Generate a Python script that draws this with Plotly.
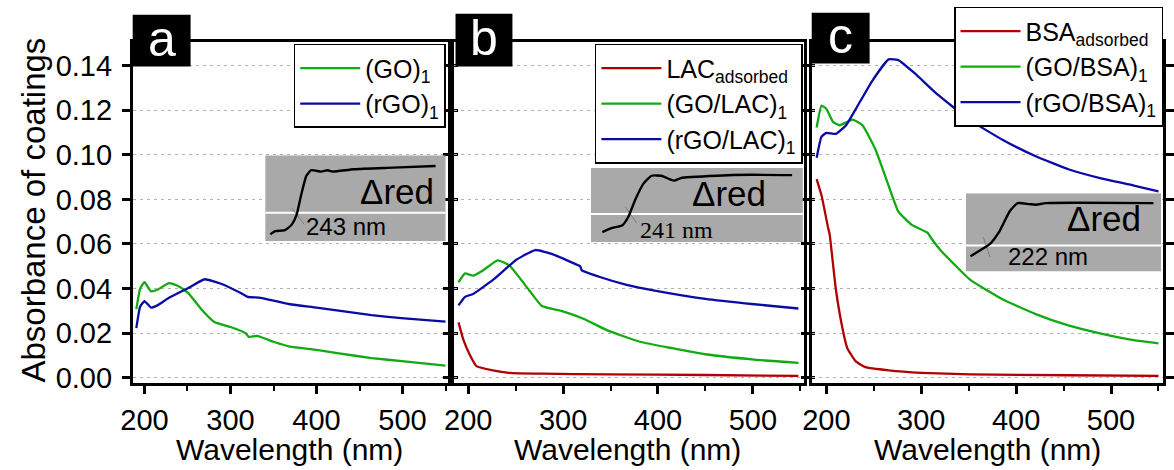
import plotly.graph_objects as go

W, H = 1174, 470

# ---------------- data ----------------
# panel a
a_go_x = [190.5, 195, 200, 207.6, 215, 228.5, 240, 251, 266, 281.7, 300, 317.8, 321, 331, 350, 369, 400, 426, 464, 502, 550]
a_go_y = [0.0308, 0.040, 0.0429, 0.0388, 0.0395, 0.0425, 0.0410, 0.0380, 0.0308, 0.0249, 0.0228, 0.0200, 0.0184, 0.0188, 0.0162, 0.0140, 0.0126, 0.0110, 0.0089, 0.0074, 0.0055]
a_rgo_x = [190.5, 195, 200, 207.6, 215, 228.5, 251, 270, 289, 312, 320, 335, 369, 400, 464, 502, 550]
a_rgo_y = [0.0223, 0.0320, 0.0344, 0.0315, 0.0325, 0.0359, 0.0403, 0.0442, 0.0422, 0.0380, 0.0363, 0.0359, 0.0330, 0.0315, 0.0281, 0.0267, 0.0252]

# panel b
b_lac_x = [189.7, 195, 201.7, 208.6, 226, 243, 277.6, 346.5, 450, 548]
b_lac_y = [0.0249, 0.0169, 0.0103, 0.0053, 0.0034, 0.0023, 0.0019, 0.0016, 0.0013, 0.0009]
b_go_x = [189.7, 196.6, 205, 215, 231, 243, 263.8, 277.6, 298, 322, 346.5, 381, 415, 450, 501.6, 548]
b_go_y = [0.0428, 0.0468, 0.0458, 0.0480, 0.0527, 0.0505, 0.0395, 0.0322, 0.0300, 0.0264, 0.0213, 0.0162, 0.0133, 0.0106, 0.0082, 0.0067]
b_rgo_x = [189.7, 196.6, 205, 226, 250, 270.6, 288, 312, 318, 319.5, 339.6, 367, 398, 450, 501.6, 548]
b_rgo_y = [0.0325, 0.0363, 0.0376, 0.0439, 0.0527, 0.0573, 0.0556, 0.0512, 0.0500, 0.0483, 0.0451, 0.0417, 0.0390, 0.0354, 0.0330, 0.0311]

# panel c
c_bsa_x = [189.7, 194.8, 201.7, 203.4, 210, 217, 222, 231, 241, 265.5, 300, 351.7, 455, 550]
c_bsa_y = [0.0891, 0.0818, 0.0674, 0.0643, 0.0395, 0.0220, 0.0133, 0.0074, 0.0048, 0.0034, 0.0023, 0.0016, 0.0012, 0.0009]
c_go_x = [189.7, 194.8, 200, 207, 213.8, 227.6, 238, 251.7, 265.5, 275.8, 289.6, 306.8, 310, 320.7, 351.7, 386, 420.6, 455, 489.6, 524, 550]
c_go_y = [0.1122, 0.1220, 0.1205, 0.1147, 0.1132, 0.1157, 0.1132, 0.1023, 0.0862, 0.0745, 0.0687, 0.0650, 0.0629, 0.0570, 0.0439, 0.0351, 0.0286, 0.0235, 0.0198, 0.0169, 0.0155]
c_rgo_x = [189.7, 194.8, 200, 210, 220.7, 231, 248, 265.5, 275.8, 293, 317, 351.7, 386, 420.6, 455, 489.6, 524, 550]
c_rgo_y = [0.0986, 0.1081, 0.1098, 0.1093, 0.1132, 0.1205, 0.1329, 0.1427, 0.1424, 0.1365, 0.1270, 0.1154, 0.1066, 0.0993, 0.0935, 0.0894, 0.0862, 0.0836]

# insets (normalised coordinates inside each grey box)
ins_a_x = [0.029, 0.056, 0.110, 0.147, 0.174, 0.201, 0.228, 0.255, 0.310, 0.346, 0.373, 0.491, 0.708, 0.944]
ins_a_y = [0.080, 0.117, 0.128, 0.193, 0.307, 0.553, 0.761, 0.826, 0.810, 0.826, 0.810, 0.838, 0.856, 0.875]
ins_b_x = [0.054, 0.100, 0.147, 0.177, 0.208, 0.247, 0.286, 0.332, 0.370, 0.394, 0.424, 0.594, 0.749, 0.949]
ins_b_y = [0.136, 0.193, 0.224, 0.346, 0.566, 0.786, 0.895, 0.895, 0.851, 0.829, 0.864, 0.895, 0.908, 0.904]
ins_c_x = [0.024, 0.074, 0.124, 0.174, 0.225, 0.266, 0.325, 0.358, 0.409, 0.576, 0.961]
ins_c_y = [0.196, 0.271, 0.354, 0.521, 0.771, 0.875, 0.8625, 0.854, 0.875, 0.879, 0.875]
tan_a = ([0.147, 0.217], [0.386, 0.193])
tan_b = ([0.162, 0.216], [0.478, 0.259])
tan_c = ([0.090, 0.124], [0.4375, 0.1875])
white_a, white_b, white_c = 0.33, 0.38, 0.334
inset_labels = ["243 nm", "241 nm", "222 nm"]

yticks = [0.00, 0.02, 0.04, 0.06, 0.08, 0.10, 0.12, 0.14]
xticks = [200, 300, 400, 500]

GREEN, BLUE, RED = "#12aa12", "#0a0aa6", "#b00000"
FONT = "Liberation Sans"

def px(x):
    return x / W

def py(y):
    return 1 - y / H

fig = go.Figure()

def add_line(x, y, color, name, xa, ya, legend):
    fig.add_trace(go.Scatter(x=x, y=y, mode="lines", name=name, xaxis=xa, yaxis=ya,
                             line=dict(color=color, width=2.3, shape="spline", smoothing=0.4),
                             legend=legend))

add_line(a_go_x, a_go_y, GREEN, "(GO)<sub>1</sub>", "x", "y", "legend")
add_line(a_rgo_x, a_rgo_y, BLUE, "(rGO)<sub>1</sub>", "x", "y", "legend")
add_line(b_lac_x, b_lac_y, RED, "LAC<sub>adsorbed</sub>", "x2", "y2", "legend2")
add_line(b_go_x, b_go_y, GREEN, "(GO/LAC)<sub>1</sub>", "x2", "y2", "legend2")
add_line(b_rgo_x, b_rgo_y, BLUE, "(rGO/LAC)<sub>1</sub>", "x2", "y2", "legend2")
add_line(c_bsa_x, c_bsa_y, RED, "BSA<sub>adsorbed</sub>", "x3", "y3", "legend3")
add_line(c_go_x, c_go_y, GREEN, "(GO/BSA)<sub>1</sub>", "x3", "y3", "legend3")
add_line(c_rgo_x, c_rgo_y, BLUE, "(rGO/BSA)<sub>1</sub>", "x3", "y3", "legend3")

# insets
insets = [
    ("x4", "y4", ins_a_x, ins_a_y, tan_a, white_a),
    ("x5", "y5", ins_b_x, ins_b_y, tan_b, white_b),
    ("x6", "y6", ins_c_x, ins_c_y, tan_c, white_c),
]
for xa, ya, ix, iy, tn, wl in insets:
    fig.add_trace(go.Scatter(x=[0, 1, 1, 0, 0], y=[0, 0, 1, 1, 0], fill="toself", mode="lines",
                             fillcolor="#a9a9a9", line=dict(width=0), xaxis=xa, yaxis=ya,
                             showlegend=False, hoverinfo="skip"))
    fig.add_trace(go.Scatter(x=[0, 1], y=[wl, wl], mode="lines", line=dict(color="white", width=2),
                             xaxis=xa, yaxis=ya, showlegend=False, hoverinfo="skip"))
    fig.add_trace(go.Scatter(x=tn[0], y=tn[1], mode="lines", line=dict(color="#707070", width=0.8),
                             xaxis=xa, yaxis=ya, showlegend=False, hoverinfo="skip"))
    fig.add_trace(go.Scatter(x=ix, y=iy, mode="lines", line=dict(color="black", width=2.4, shape="spline", smoothing=0.5),
                             xaxis=xa, yaxis=ya, showlegend=False, hoverinfo="skip"))

# geometry (pixels)
panels = {
    "a": dict(x0=123, x1=444, xr=[186.3, 552.5]),
    "b": dict(x0=450, x1=807, xr=[184.5, 553.8]),
    "c": dict(x0=815, x1=1173, xr=[184.5, 554.8]),
}
ydom = [py(392), py(43)]
yr = [-0.0022, 0.1505]

axcommon = dict(showline=True, linewidth=2.5, linecolor="black", ticks="outside", tickwidth=2.5,
                ticklen=8, tickcolor="black", zeroline=False)

layout = dict(width=W, height=H, margin=dict(l=0, r=0, t=0, b=0),
              paper_bgcolor="white", plot_bgcolor="rgba(0,0,0,0)",
              font=dict(family=FONT, color="black"), showlegend=True)

for i, key in enumerate(["a", "b", "c"]):
    p = panels[key]
    sfx = "" if i == 0 else str(i + 1)
    layout["xaxis" + sfx] = dict(domain=[px(p["x0"]), px(p["x1"])], range=p["xr"], anchor="y" + sfx,
                                 tickvals=xticks, tickfont=dict(size=29, family=FONT), mirror=True,
                                 showgrid=False, ticklabelstandoff=2,
                                 minor=dict(dtick=50, tick0=0, ticks="outside", ticklen=5, tickwidth=2, tickcolor="black"),
                                 **axcommon)
    layout["yaxis" + sfx] = dict(domain=ydom, range=yr, anchor="x" + sfx, tickvals=yticks,
                                 tickformat=".2f", tickfont=dict(size=29, family=FONT),
                                 showticklabels=(i == 0), mirror="ticks", ticklabelstandoff=4,
                                 showgrid=True, gridcolor="#b2b2b2", gridwidth=1, griddash="3px,4px",
                                 **axcommon)

inset_geo = [(258, 442, 159, 247), (590, 806, 172, 248), (972, 1171, 198, 278)]
for j, (x0, x1, y0, y1) in enumerate(inset_geo):
    n = str(j + 4)
    layout["xaxis" + n] = dict(domain=[px(x0), px(x1)], range=[0, 1], visible=False, anchor="y" + n, fixedrange=True)
    layout["yaxis" + n] = dict(domain=[py(y1), py(y0)], range=[0, 1], visible=False, anchor="x" + n, fixedrange=True)

legbase = dict(bgcolor="white", bordercolor="black", borderwidth=1.5, font=dict(size=25, family=FONT),
               xanchor="right", yanchor="top", itemwidth=60, tracegroupgap=0)
layout["legend"] = dict(x=px(442), y=py(45), **legbase)
layout["legend2"] = dict(x=px(806), y=py(45), **legbase)
layout["legend3"] = dict(x=px(1173), y=py(7), **legbase)

fig.update_layout(**layout)

# panel label boxes
labels = [("a", 123, 182, 15, 68), ("b", 452, 510, 14, 68), ("c", 815, 874, 13, 65)]
for t, x0, x1, y0, y1 in labels:
    fig.add_shape(type="rect", xref="paper", yref="paper", x0=px(x0), x1=px(x1), y0=py(y1), y1=py(y0),
                  fillcolor="black", line=dict(width=0), layer="above")
    fig.add_annotation(text=t, xref="paper", yref="paper", x=px((x0 + x1) / 2), y=py((y0 + y1) / 2 - 2),
                       showarrow=False, font=dict(size=50, color="white", family=FONT),
                       xanchor="center", yanchor="middle")

# inset texts
dred = [(432, 196), (770, 198), (1153, 224)]
nm_pos = [(298, 232, FONT), (638, 235, "Liberation Serif"), (1013, 263, FONT)]
for (xr_, yc), (xl, yn, fnt), lab in zip(dred, nm_pos, inset_labels):
    fig.add_annotation(text="\u0394red", xref="paper", yref="paper", x=px(xr_), y=py(yc), showarrow=False,
                       xanchor="right", yanchor="middle", font=dict(size=35, family=FONT, color="black"))
    fig.add_annotation(text=lab, xref="paper", yref="paper", x=px(xl), y=py(yn), showarrow=False,
                       xanchor="left", yanchor="middle", font=dict(size=24, family=fnt, color="black"))

# axis titles
for xc in [283, 627, 994]:
    fig.add_annotation(text="Wavelength (nm)", xref="paper", yref="paper", x=px(xc), y=py(460),
                       showarrow=False, xanchor="center", yanchor="middle",
                       font=dict(size=30, family=FONT, color="black"))
fig.add_annotation(text="Absorbance of coatings", xref="paper", yref="paper", x=px(22), y=py(215),
                   showarrow=False, textangle=-90, xanchor="center", yanchor="middle",
                   font=dict(size=33, family=FONT, color="black"))

fig.write_html("out.html")
